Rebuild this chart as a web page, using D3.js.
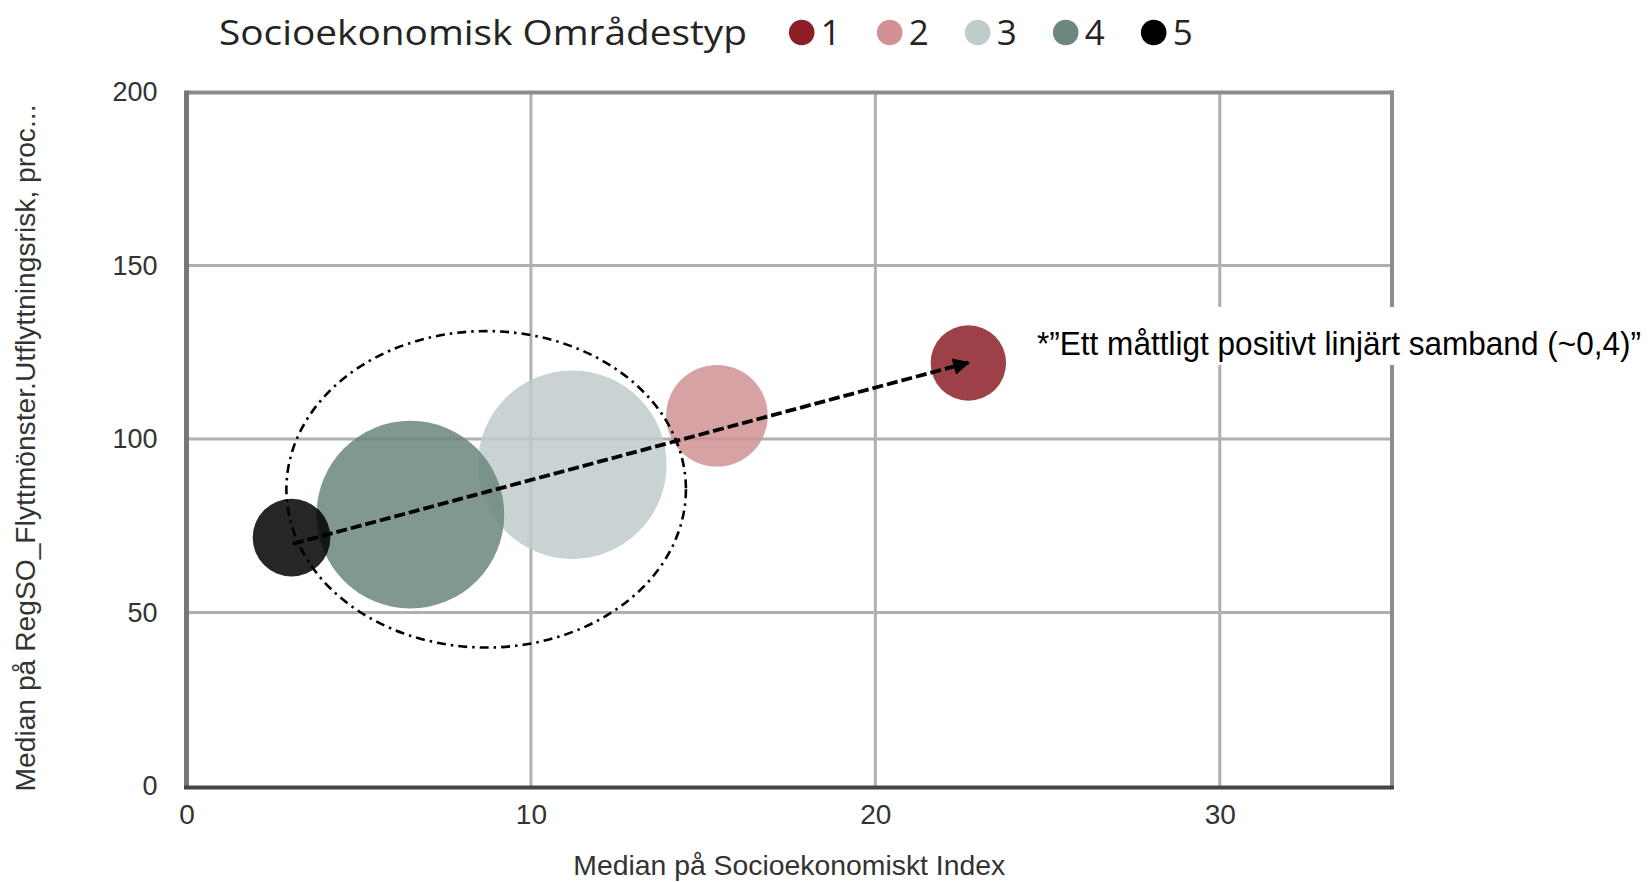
<!DOCTYPE html>
<html>
<head>
<meta charset="utf-8">
<script src="https://cdn.jsdelivr.net/npm/d3@7"></script>
<style>
	body { margin: 0; background: #fff; }
	svg { display: block; }
</style>
</head>
<body>
<div id="chart"></div>
<script>
const TYPES = ["1", "2", "3", "4", "5"];
const X_VALUES = [22.7, 15.4, 11.2, 6.5, 3.05];
const Y_VALUES = [121.9, 106.7, 92.6, 78.2, 71.6];
const SIZES = [16, 29, 100, 99, 17];
const COLORS = ["#8d1e27", "#d09294", "#c0cbcb", "#6b867f", "#000000"];
const X_TICKS = [0, 10, 20, 30];
const Y_TICKS = [0, 50, 100, 150, 200];
const TREND_FROM = [3.09, 69.8];
const TREND_TO = [22.7, 122];
const CLUSTER = { cx: 8.7, cy: 85.5, rx: 5.8, ry: 45.6 };
const NOTE = "*\u201DEtt måttligt positivt linjärt samband (~0,4)\u201D";

const WIDTH = 1652;
const HEIGHT = 882;
const PLOT = { left: 186.5, right: 1392, top: 92, bottom: 786 };

const svg = d3.select("#chart").append("svg")
	.attr("width", WIDTH)
	.attr("height", HEIGHT);

let x = d3.scaleLinear().domain([0, 35]).range([PLOT.left, PLOT.right]);
let y = d3.scaleLinear().domain([0, 200]).range([PLOT.bottom, PLOT.top]);
let r = d3.scaleSqrt().domain([0, 100]).range([0, 94.3]);

// grid
let grid = svg.append("g").attr("stroke", "#b0b0b0").attr("stroke-width", 3);
grid.selectAll(".gx")
	.data(X_TICKS.filter((d) => d > 0))
	.enter().append("line")
	.attr("x1", (d) => x(d)).attr("x2", (d) => x(d))
	.attr("y1", PLOT.top).attr("y2", PLOT.bottom);
grid.selectAll(".gy")
	.data(Y_TICKS.filter((d) => d > 0 && d < 200))
	.enter().append("line")
	.attr("x1", PLOT.left).attr("x2", PLOT.right)
	.attr("y1", (d) => y(d)).attr("y2", (d) => y(d));

// frame
svg.append("line").attr("x1", PLOT.left).attr("x2", PLOT.right + 2)
	.attr("y1", PLOT.top + 0.5).attr("y2", PLOT.top + 0.5)
	.attr("stroke", "#8c8c8c").attr("stroke-width", 4);
svg.append("line").attr("x1", PLOT.right).attr("x2", PLOT.right)
	.attr("y1", PLOT.top - 1.5).attr("y2", PLOT.bottom)
	.attr("stroke", "#8c8c8c").attr("stroke-width", 4);

// axes
let xAxis = svg.append("g")
	.attr("transform", "translate(0," + PLOT.bottom + ")")
	.call(d3.axisBottom(x).tickValues(X_TICKS).tickSize(0).tickPadding(18));
let yAxis = svg.append("g")
	.attr("transform", "translate(" + PLOT.left + ",0)")
	.call(d3.axisLeft(y).tickValues(Y_TICKS).tickSize(0).tickPadding(29));
[xAxis, yAxis].forEach((a) => {
	a.select(".domain").remove();
	a.selectAll("text")
		.attr("fill", "#333")
		.attr("font-family", "'Liberation Sans', Arial, sans-serif");
});
xAxis.selectAll("text").attr("font-size", 28);
yAxis.selectAll("text").attr("font-size", 27);

svg.append("line").attr("x1", PLOT.left).attr("x2", PLOT.left)
	.attr("y1", PLOT.top - 1.5).attr("y2", PLOT.bottom + 2)
	.attr("stroke", "#777").attr("stroke-width", 5);
svg.append("line").attr("x1", PLOT.left - 2.5).attr("x2", PLOT.right + 2)
	.attr("y1", PLOT.bottom + 1.5).attr("y2", PLOT.bottom + 1.5)
	.attr("stroke", "#454545").attr("stroke-width", 4);

// axis titles
svg.append("text")
	.attr("x", x(17.5)).attr("y", 875)
	.attr("text-anchor", "middle")
	.attr("font-family", "'Liberation Sans', Arial, sans-serif")
	.attr("font-size", 28)
	.attr("fill", "#333")
	.attr("textLength", 432).attr("lengthAdjust", "spacingAndGlyphs")
	.text("Median på Socioekonomiskt Index");

svg.append("text")
	.attr("transform", "translate(35," + 448 + ") rotate(-90)")
	.attr("text-anchor", "middle")
	.attr("font-family", "'Liberation Sans', Arial, sans-serif")
	.attr("font-size", 27)
	.attr("fill", "#333")
	.attr("textLength", 687).attr("lengthAdjust", "spacingAndGlyphs")
	.text("Median på RegSO_Flyttmönster.Utflyttningsrisk, proc...");

// bubbles, biggest first
let points = TYPES.map((t, i) => ({ type: t, x: X_VALUES[i], y: Y_VALUES[i], size: SIZES[i], color: COLORS[i] }))
	.sort((a, b) => b.size - a.size);

svg.append("g")
	.selectAll("circle")
	.data(points)
	.enter().append("circle")
	.attr("cx", (d) => x(d.x))
	.attr("cy", (d) => y(d.y))
	.attr("r", (d) => r(d.size))
	.attr("fill", (d) => d.color)
	.attr("fill-opacity", 0.85);

// cluster ellipse
svg.append("ellipse")
	.attr("cx", x(CLUSTER.cx))
	.attr("cy", y(CLUSTER.cy))
	.attr("rx", x(CLUSTER.rx) - x(0))
	.attr("ry", y(0) - y(CLUSTER.ry))
	.attr("fill", "none")
	.attr("stroke", "#000")
	.attr("stroke-width", 2.6)
	.attr("stroke-dasharray", "9,5,2.5,5");

// trend arrow
svg.append("defs").append("marker")
	.attr("id", "head")
	.attr("viewBox", "0 0 10 10")
	.attr("refX", 9).attr("refY", 5)
	.attr("markerWidth", 5).attr("markerHeight", 4.4)
	.attr("markerUnits", "strokeWidth")
	.attr("orient", "auto")
	.append("path")
	.attr("d", "M0,0L10,5L0,10z")
	.attr("fill", "#000");

svg.append("line")
	.attr("x1", x(TREND_FROM[0])).attr("y1", y(TREND_FROM[1]))
	.attr("x2", x(TREND_TO[0])).attr("y2", y(TREND_TO[1]))
	.attr("stroke", "#000")
	.attr("stroke-width", 3.8)
	.attr("stroke-dasharray", "11,4")
	.attr("marker-end", "url(#head)");

// note
svg.append("rect")
	.attr("x", 1030).attr("y", 307)
	.attr("width", WIDTH - 1030).attr("height", 58)
	.attr("fill", "#fff");
svg.append("text")
	.attr("transform", "translate(1037,355) scale(1,1.15)")
	.attr("font-family", "'Liberation Sans', Arial, sans-serif")
	.attr("font-size", 28.5)
	.attr("fill", "#000")
	.attr("textLength", 604).attr("lengthAdjust", "spacingAndGlyphs")
	.text(NOTE);

// legend
let legend = svg.append("g")
	.attr("font-family", "'Open Sans', 'Segoe UI', sans-serif")
	.attr("fill", "#252423");

legend.append("text")
	.attr("x", 219).attr("y", 45)
	.attr("font-size", 35)
	.attr("textLength", 528).attr("lengthAdjust", "spacingAndGlyphs")
	.text("Socioekonomisk Områdestyp");

let items = legend.selectAll(".item")
	.data(TYPES)
	.enter().append("g")
	.attr("transform", (d, i) => "translate(" + (801.7 + i * 88) + ",32.5)");

items.append("circle")
	.attr("r", 12.8)
	.attr("fill", (d, i) => COLORS[i]);

items.append("text")
	.attr("x", 19)
	.attr("y", 12.5)
	.attr("font-size", 35)
	.text((d) => d);
</script>
</body>
</html>
